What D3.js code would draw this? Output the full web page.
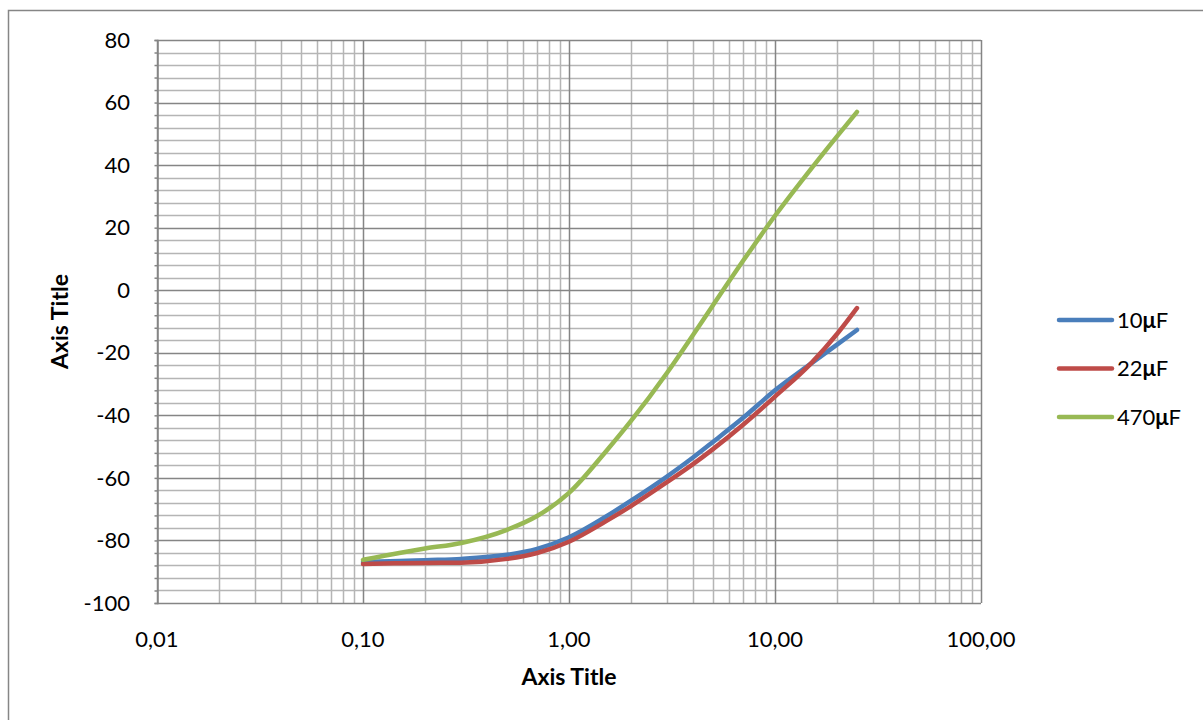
<!DOCTYPE html>
<html>
<head>
<meta charset="utf-8">
<script src="https://cdn.jsdelivr.net/npm/d3@7"></script>
<style>
  body { margin: 0; background: #fff; }
  text { font-family: Lato, "Open Sans", sans-serif; fill: #000; }
</style>
</head>
<body>
<div id="chart"></div>
<script>
// data
var xTickValues = [0.01, 0.1, 1, 10, 100]
var xTickLabels = ["0,01", "0,10", "1,00", "10,00", "100,00"]
var yTickValues = [-100, -80, -60, -40, -20, 0, 20, 40, 60, 80]

var freq = [0.1, 0.15, 0.2, 0.3, 0.5, 0.7, 1, 1.5, 2, 3, 4, 5, 7, 10, 15, 20, 25]
var c10 = [-86.9, -86.6, -86.3, -85.9, -84.6, -82.7, -79, -72.5, -67.3, -59.5, -53.5, -48.5, -40.8, -32, -23.4, -17.4, -12.7]
var c22 = [-87.5, -87.3, -87.2, -87.1, -85.9, -84, -80.4, -74, -69, -61.3, -55.6, -50.8, -43, -34, -23.3, -14, -5.7]
var c470 = [-86.2, -84, -82.6, -80.8, -76.6, -72.2, -64.8, -51.8, -41.8, -26.3, -14.3, -4.8, 9.4, 23.8, 38.9, 49.2, 57]

var seriesNames = ["10\u03bcF", "22\u03bcF", "470\u03bcF"]
var seriesColors = ["#4a7ebb", "#be4b48", "#98b954"]
var seriesValues = [c10, c22, c470]

var width = 1203, height = 720
var margin = {top: 40, left: 157, right: 222, bottom: 117}

var svg = d3.select("#chart").append("svg")
  .attr("width", width)
  .attr("height", height)

// outer chart border
svg.append("rect")
  .attr("x", 8.5).attr("y", 10.5)
  .attr("width", width).attr("height", height)
  .attr("fill", "none")
  .attr("stroke", "#868686")
  .attr("stroke-width", 1.5)

var x = d3.scaleLog().domain([0.01, 100]).range([margin.left, width - margin.right])
var y = d3.scaleLinear().domain([-100, 80]).range([height - margin.bottom, margin.top])

var grid = svg.append("g")

//minor vertical lines (2..9 inside each decade)
var minorX = []
for (var d = 0.01; d < 100; d *= 10) {
  for (var k = 2; k <= 9; k++) minorX.push(d * k)
}
grid.selectAll(".mx").data(minorX).enter().append("line")
  .attr("x1", function (v) { return Math.round(x(v)) + 0.5 })
  .attr("x2", function (v) { return Math.round(x(v)) + 0.5 })
  .attr("y1", y(80)).attr("y2", y(-100))
  .attr("stroke", "#b5b5b5").attr("stroke-width", 1.5)

//minor horizontal lines every 4
var minorY = d3.range(-96, 80, 4).filter(function (v) { return v % 20 != 0 })
grid.selectAll(".my").data(minorY).enter().append("line")
  .attr("x1", x(0.01)).attr("x2", x(100))
  .attr("y1", function (v) { return Math.round(y(v)) + 0.5 })
  .attr("y2", function (v) { return Math.round(y(v)) + 0.5 })
  .attr("stroke", "#b5b5b5").attr("stroke-width", 1.5)

//major lines
grid.selectAll(".MX").data(xTickValues).enter().append("line")
  .attr("x1", function (v) { return Math.round(x(v)) + 0.5 })
  .attr("x2", function (v) { return Math.round(x(v)) + 0.5 })
  .attr("y1", y(80)).attr("y2", y(-100))
  .attr("stroke", "#858585").attr("stroke-width", 1.5)

grid.selectAll(".MY").data(yTickValues).enter().append("line")
  .attr("x1", x(0.01)).attr("x2", x(100))
  .attr("y1", function (v) { return Math.round(y(v)) + 0.5 })
  .attr("y2", function (v) { return Math.round(y(v)) + 0.5 })
  .attr("stroke", "#858585").attr("stroke-width", 1.5)

// y axis with small ticks on the left
var yAxis = d3.axisLeft(y).tickValues(d3.range(-100, 81, 4)).tickSize(3).tickFormat("")
svg.append("g")
  .attr("transform", "translate(" + (x(0.01) + 0.5) + ",0)")
  .call(yAxis)
  .call(function (g) { g.selectAll("line,path").attr("stroke", "#858585").attr("stroke-width", 1.5) })

svg.selectAll(".ylab").data(yTickValues).enter().append("text")
  .attr("x", 130)
  .attr("y", function (v) { return y(v) })
  .attr("dy", "0.35em")
  .attr("text-anchor", "end")
  .style("font-size", "22px")
  .text(function (v) { return v })

svg.selectAll(".xlab").data(xTickValues).enter().append("text")
  .attr("x", function (v) { return x(v) })
  .attr("y", 647)
  .attr("text-anchor", "middle")
  .style("font-size", "22px")
  .text(function (v, i) { return xTickLabels[i] })

//axis titles
svg.append("text")
  .attr("x", x(1)).attr("y", 685)
  .attr("text-anchor", "middle")
  .style("font-size", "23px").style("font-weight", "bold")
  .text("Axis Title")

svg.append("text")
  .attr("transform", "translate(68," + y(-10) + ") rotate(-90)")
  .attr("text-anchor", "middle")
  .style("font-size", "23px").style("font-weight", "bold")
  .text("Axis Title")

// the three curves
var line = d3.line()
  .x(function (d) { return x(d[0]) })
  .y(function (d) { return y(d[1]) })
  .curve(d3.curveMonotoneX)

seriesValues.forEach(function (vals, i) {
  svg.append("path")
    .datum(freq.map(function (f, j) { return [f, vals[j]] }))
    .attr("d", line)
    .attr("fill", "none")
    .attr("stroke", seriesColors[i])
    .attr("stroke-width", 4.5)
    .attr("stroke-linecap", "round")
    .attr("stroke-linejoin", "round")
})

//legend
var legend = svg.append("g")
seriesNames.forEach(function (name, i) {
  var ly = 320 + i * 48.5
  legend.append("line")
    .attr("x1", 1059).attr("x2", 1112)
    .attr("y1", ly).attr("y2", ly)
    .attr("stroke", seriesColors[i])
    .attr("stroke-width", 4.5)
    .attr("stroke-linecap", "round")
  var t = legend.append("text")
    .attr("x", 1117).attr("y", ly)
    .attr("dy", "0.35em")
    .style("font-size", "22px")
  var parts = name.split("\u03bc")
  t.append("tspan").text(parts[0])
  t.append("tspan").style("font-weight", "bold").text("\u03bc")
  t.append("tspan").text(parts[1])
})
</script>
</body>
</html>
